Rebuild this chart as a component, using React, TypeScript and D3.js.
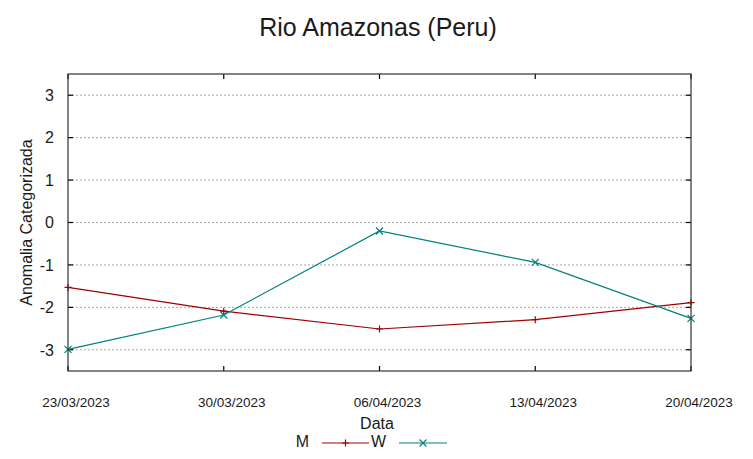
import { useMemo } from "react";
import * as d3 from "d3";

const WIDTH = 753;
const HEIGHT = 459;
const MARGIN = { top: 74, right: 62, bottom: 88, left: 68 };

const dates = ["23/03/2023", "30/03/2023", "06/04/2023", "13/04/2023", "20/04/2023"];
const valuesM = [-1.53, -2.09, -2.51, -2.29, -1.89];
const valuesW = [-2.99, -2.18, -0.2, -0.94, -2.26];
const yTicks = [-3, -2, -1, 0, 1, 2, 3];

const COLOR_M = "#a00000";
const COLOR_W = "#00807f";
const FONT = "'Liberation Sans', Arial, sans-serif";

export default function App() {
  const x = useMemo(
    () =>
      d3
        .scalePoint<string>()
        .domain(dates)
        .range([MARGIN.left, WIDTH - MARGIN.right]),
    []
  );

  const y = useMemo(
    () =>
      d3
        .scaleLinear()
        .domain([-3.5, 3.5])
        .range([HEIGHT - MARGIN.bottom, MARGIN.top]),
    []
  );

  const line = d3
    .line<number>()
    .x((_, i) => x(dates[i]) ?? 0)
    .y((d) => y(d));

  const left = MARGIN.left;
  const right = WIDTH - MARGIN.right;
  const top = MARGIN.top;
  const bottom = HEIGHT - MARGIN.bottom;
  const s = 3.5;

  const plus = (cx: number, cy: number, color: string, k: string) => (
    <path key={k} d={`M${cx - s},${cy}H${cx + s}M${cx},${cy - s}V${cy + s}`} stroke={color} strokeWidth={1.2} />
  );
  const cross = (cx: number, cy: number, color: string, k: string) => (
    <path
      key={k}
      d={`M${cx - s},${cy - s}L${cx + s},${cy + s}M${cx - s},${cy + s}L${cx + s},${cy - s}`}
      stroke={color}
      strokeWidth={1.2}
    />
  );

  return (
    <svg
      width={WIDTH}
      height={HEIGHT}
      style={{ position: "absolute", left: 0, top: 0, background: "#fff" }}
      fontFamily={FONT}
    >
      <text x={378} y={36} textAnchor="middle" fontSize={25} fill="#1a1a1a">
        Rio Amazonas (Peru)
      </text>

      {yTicks.map((t) => (
        <g key={t}>
          <line x1={left} x2={right} y1={y(t)} y2={y(t)} stroke="#a8a8a8" strokeWidth={1} strokeDasharray="2,2" />
          <line x1={left} x2={left + 5} y1={y(t)} y2={y(t)} stroke="#000" strokeWidth={1.2} />
          <line x1={right - 5} x2={right} y1={y(t)} y2={y(t)} stroke="#000" strokeWidth={1.2} />
          <text x={left - 14} y={y(t)} dy="0.36em" textAnchor="end" fontSize={16} fill="#1a1a1a">
            {t}
          </text>
        </g>
      ))}

      {dates.map((d) => (
        <g key={d}>
          <line x1={x(d)} x2={x(d)} y1={bottom} y2={bottom - 5} stroke="#000" strokeWidth={1.2} />
          <line x1={x(d)} x2={x(d)} y1={top} y2={top + 5} stroke="#000" strokeWidth={1.2} />
          <text x={(x(d) ?? 0) + 8} y={402} dy="0.36em" textAnchor="middle" fontSize={13.5} fill="#1a1a1a">
            {d}
          </text>
        </g>
      ))}

      <path d={line(valuesM) ?? ""} fill="none" stroke={COLOR_M} strokeWidth={1.2} />
      <path d={line(valuesW) ?? ""} fill="none" stroke={COLOR_W} strokeWidth={1.2} />
      {valuesM.map((v, i) => plus(x(dates[i]) ?? 0, y(v), COLOR_M, `m${i}`))}
      {valuesW.map((v, i) => cross(x(dates[i]) ?? 0, y(v), COLOR_W, `w${i}`))}

      <rect x={left} y={top} width={right - left} height={bottom - top} fill="none" stroke="#333" strokeWidth={1.2} />

      <text
        transform={`translate(26,${(top + bottom) / 2}) rotate(-90)`}
        textAnchor="middle"
        dy="0.36em"
        fontSize={16}
        fill="#1a1a1a"
      >
        Anomalia Categorizada
      </text>
      <text x={377} y={429} textAnchor="middle" fontSize={16} fill="#1a1a1a">
        Data
      </text>

      <text x={309} y={447} textAnchor="end" fontSize={16} fill="#1a1a1a">
        M
      </text>
      <line x1={322} x2={369} y1={443} y2={443} stroke={COLOR_M} strokeWidth={1.2} />
      {plus(345.5, 443, COLOR_M, "lm")}
      <text x={386} y={447} textAnchor="end" fontSize={16} fill="#1a1a1a">
        W
      </text>
      <line x1={399} x2={447} y1={443} y2={443} stroke={COLOR_W} strokeWidth={1.2} />
      {cross(423, 443, COLOR_W, "lw")}
    </svg>
  );
}
